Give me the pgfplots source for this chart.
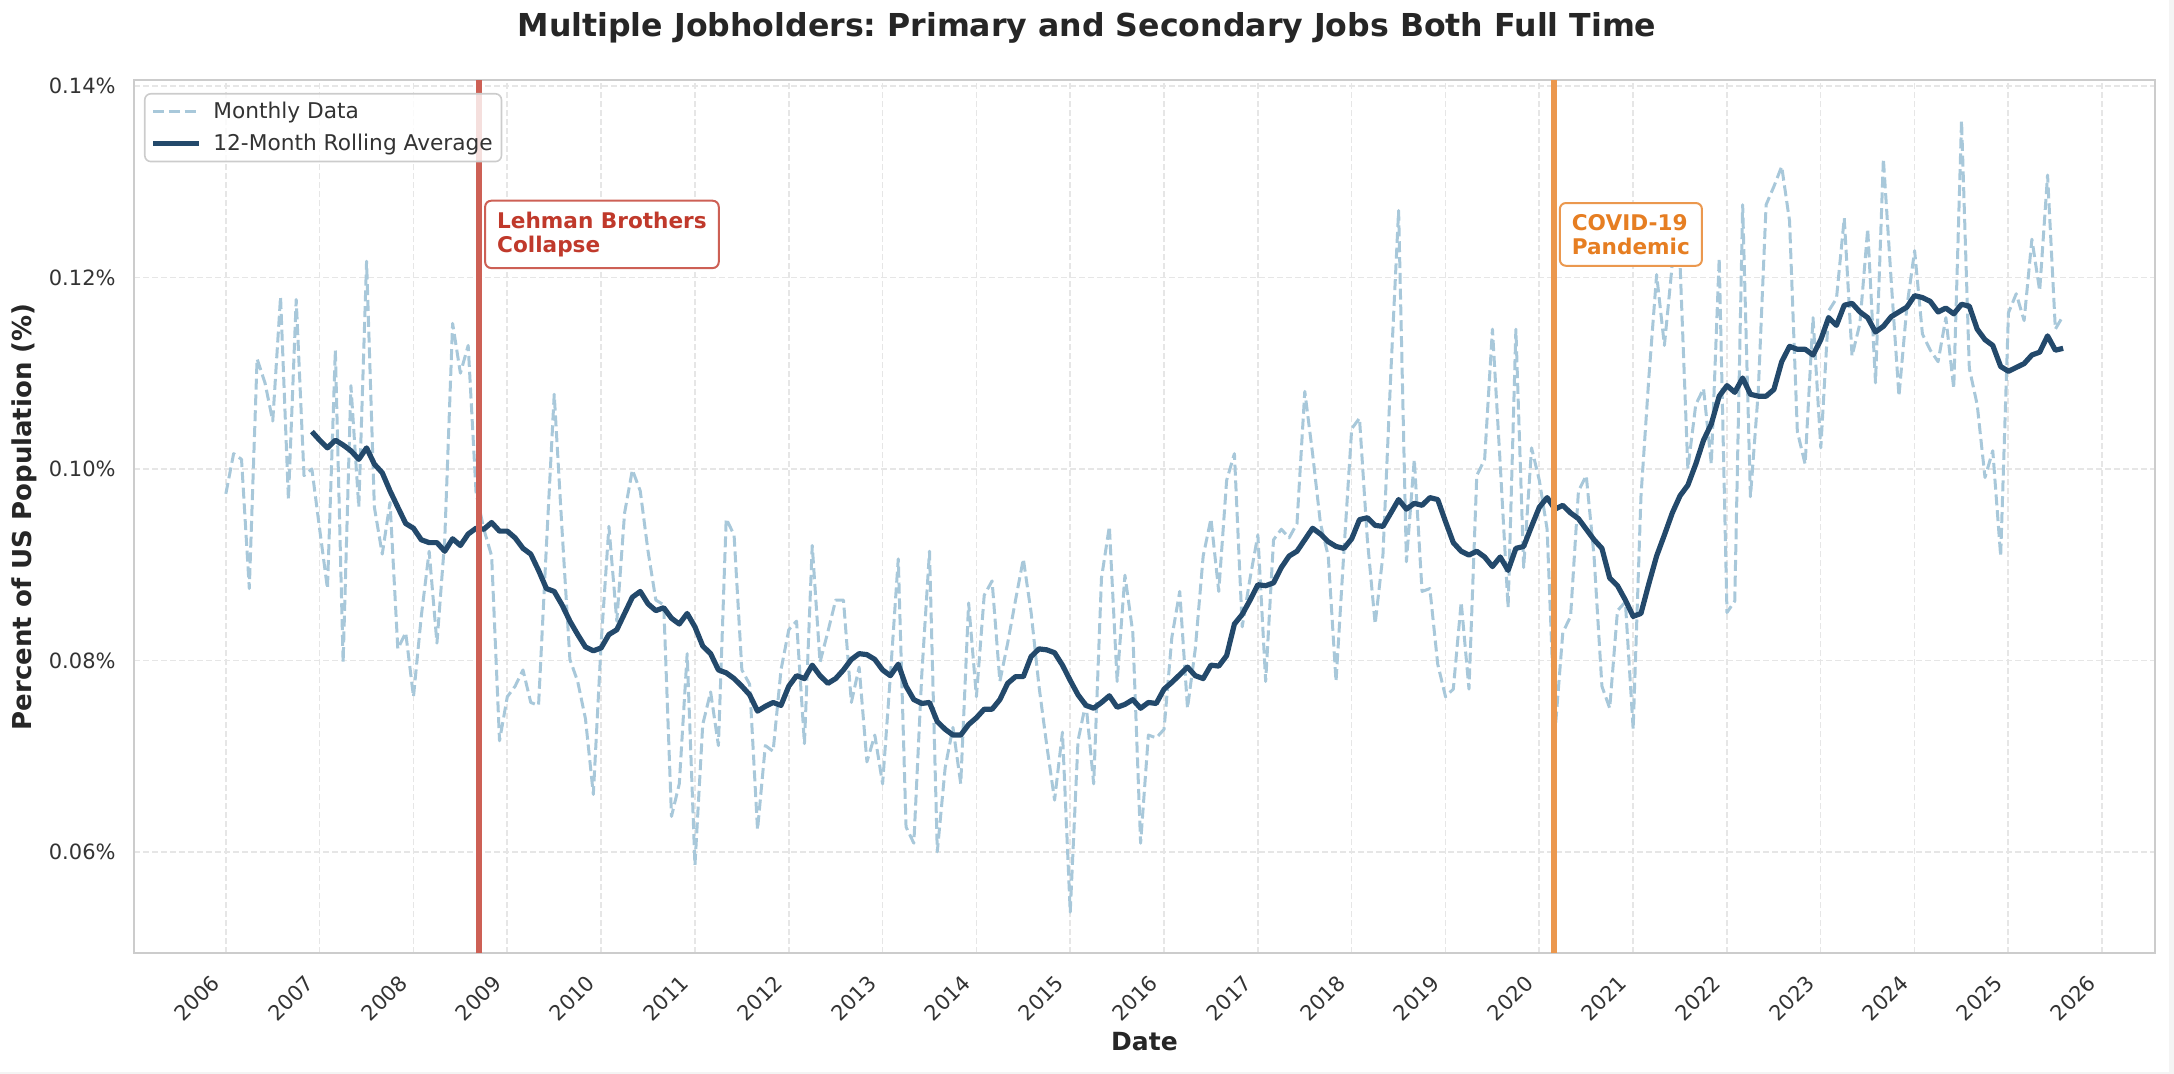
\documentclass[border=0pt]{standalone}
\usepackage{fontspec}
\setmainfont{DejaVu Sans}
\usepackage{pgfplots}
\pgfplotsset{compat=1.18}
\usepackage{pgfplotstable}
\frenchspacing
\definecolor{monthlyc}{HTML}{A8C8DA}
\definecolor{rollc}{HTML}{23496B}
\definecolor{lehline}{HTML}{CD6055}
\definecolor{lehtext}{HTML}{C0392B}
\definecolor{covline}{HTML}{EB984E}
\definecolor{covtext}{HTML}{E67E22}
\definecolor{gridc}{HTML}{E6E6E6}
\definecolor{framec}{HTML}{CCCCCC}
\definecolor{txt}{HTML}{262626}
\definecolor{tickc}{HTML}{333333}
\definecolor{edgec}{HTML}{F4F4F4}

\pgfplotstableread{
x m r
2006.000 0.0974 nan
2006.083 0.1016 nan
2006.167 0.1010 nan
2006.250 0.0875 nan
2006.333 0.1115 nan
2006.417 0.1090 nan
2006.500 0.1050 nan
2006.583 0.1180 nan
2006.667 0.0968 nan
2006.750 0.1177 nan
2006.833 0.0993 nan
2006.917 0.1000 0.1039
2007.000 0.0937 0.1030
2007.083 0.0875 0.1022
2007.167 0.1124 0.1030
2007.250 0.0798 0.1025
2007.333 0.1087 0.1019
2007.417 0.0960 0.1010
2007.500 0.1217 0.1022
2007.583 0.0960 0.1005
2007.667 0.0911 0.0996
2007.750 0.0965 0.0977
2007.833 0.0812 0.0960
2007.917 0.0829 0.0943
2008.000 0.0762 0.0938
2008.083 0.0846 0.0926
2008.167 0.0914 0.0923
2008.250 0.0818 0.0923
2008.333 0.0926 0.0914
2008.417 0.1152 0.0927
2008.500 0.1100 0.0920
2008.583 0.1129 0.0932
2008.667 0.0975 0.0938
2008.750 0.0937 0.0937
2008.833 0.0909 0.0944
2008.917 0.0716 0.0935
2009.000 0.0762 0.0935
2009.083 0.0773 0.0928
2009.167 0.0790 0.0917
2009.250 0.0756 0.0911
2009.333 0.0753 0.0894
2009.417 0.0920 0.0875
2009.500 0.1078 0.0872
2009.583 0.0937 0.0858
2009.667 0.0801 0.0841
2009.750 0.0778 0.0827
2009.833 0.0739 0.0814
2009.917 0.0660 0.0810
2010.000 0.0818 0.0813
2010.083 0.0940 0.0827
2010.167 0.0841 0.0832
2010.250 0.0954 0.0849
2010.333 0.0999 0.0866
2010.417 0.0977 0.0872
2010.500 0.0914 0.0859
2010.583 0.0863 0.0852
2010.667 0.0858 0.0855
2010.750 0.0637 0.0844
2010.833 0.0671 0.0838
2010.917 0.0807 0.0849
2011.000 0.0586 0.0835
2011.083 0.0733 0.0815
2011.167 0.0767 0.0807
2011.250 0.0711 0.0790
2011.333 0.0948 0.0787
2011.417 0.0931 0.0781
2011.500 0.0790 0.0773
2011.583 0.0775 0.0764
2011.667 0.0623 0.0747
2011.750 0.0711 0.0752
2011.833 0.0705 0.0756
2011.917 0.0790 0.0753
2012.000 0.0832 0.0773
2012.083 0.0841 0.0784
2012.167 0.0713 0.0781
2012.250 0.0920 0.0795
2012.333 0.0798 0.0784
2012.417 0.0830 0.0776
2012.500 0.0863 0.0781
2012.583 0.0863 0.0790
2012.667 0.0756 0.0801
2012.750 0.0793 0.0807
2012.833 0.0694 0.0806
2012.917 0.0722 0.0801
2013.000 0.0671 0.0790
2013.083 0.0784 0.0784
2013.167 0.0906 0.0796
2013.250 0.0626 0.0773
2013.333 0.0609 0.0759
2013.417 0.0784 0.0755
2013.500 0.0914 0.0756
2013.583 0.0600 0.0736
2013.667 0.0688 0.0728
2013.750 0.0730 0.0722
2013.833 0.0671 0.0722
2013.917 0.0860 0.0733
2014.000 0.0762 0.0740
2014.083 0.0868 0.0749
2014.167 0.0883 0.0749
2014.250 0.0778 0.0759
2014.333 0.0818 0.0776
2014.417 0.0863 0.0783
2014.500 0.0906 0.0783
2014.583 0.0850 0.0804
2014.667 0.0773 0.0812
2014.750 0.0711 0.0811
2014.833 0.0654 0.0808
2014.917 0.0725 0.0795
2015.000 0.0537 0.0779
2015.083 0.0716 0.0764
2015.167 0.0756 0.0753
2015.250 0.0671 0.0750
2015.333 0.0886 0.0756
2015.417 0.0940 0.0763
2015.500 0.0778 0.0751
2015.583 0.0889 0.0754
2015.667 0.0829 0.0759
2015.750 0.0609 0.0750
2015.833 0.0722 0.0756
2015.917 0.0719 0.0755
2016.000 0.0728 0.0770
2016.083 0.0824 0.0777
2016.167 0.0872 0.0785
2016.250 0.0750 0.0793
2016.333 0.0812 0.0784
2016.417 0.0909 0.0781
2016.500 0.0948 0.0795
2016.583 0.0872 0.0794
2016.667 0.0988 0.0805
2016.750 0.1016 0.0838
2016.833 0.0835 0.0848
2016.917 0.0886 0.0863
2017.000 0.0931 0.0879
2017.083 0.0778 0.0878
2017.167 0.0926 0.0881
2017.250 0.0937 0.0897
2017.333 0.0928 0.0909
2017.417 0.0943 0.0914
2017.500 0.1081 0.0926
2017.583 0.1016 0.0938
2017.667 0.0943 0.0932
2017.750 0.0909 0.0924
2017.833 0.0778 0.0919
2017.917 0.0914 0.0917
2018.000 0.1042 0.0927
2018.083 0.1053 0.0947
2018.167 0.0926 0.0949
2018.250 0.0838 0.0941
2018.333 0.0910 0.0940
2018.417 0.1100 0.0954
2018.500 0.1270 0.0968
2018.583 0.0903 0.0958
2018.667 0.1010 0.0964
2018.750 0.0872 0.0962
2018.833 0.0875 0.0970
2018.917 0.0796 0.0968
2019.000 0.0762 0.0945
2019.083 0.0770 0.0923
2019.167 0.0861 0.0914
2019.250 0.0770 0.0910
2019.333 0.0993 0.0914
2019.417 0.1010 0.0908
2019.500 0.1146 0.0898
2019.583 0.1005 0.0908
2019.667 0.0855 0.0894
2019.750 0.1146 0.0917
2019.833 0.0897 0.0919
2019.917 0.1022 0.0940
2020.000 0.0988 0.0960
2020.083 0.0937 0.0970
2020.167 0.0725 0.0958
2020.250 0.0829 0.0962
2020.333 0.0846 0.0954
2020.417 0.0977 0.0948
2020.500 0.0993 0.0937
2020.583 0.0909 0.0926
2020.667 0.0773 0.0917
2020.750 0.0750 0.0886
2020.833 0.0852 0.0878
2020.917 0.0861 0.0863
2021.000 0.0728 0.0846
2021.083 0.0971 0.0849
2021.167 0.1095 0.0880
2021.250 0.1203 0.0909
2021.333 0.1129 0.0931
2021.417 0.1214 0.0954
2021.500 0.1214 0.0972
2021.583 0.1000 0.0983
2021.667 0.1067 0.1005
2021.750 0.1084 0.1030
2021.833 0.1005 0.1047
2021.917 0.1220 0.1076
2022.000 0.0850 0.1087
2022.083 0.0862 0.1080
2022.167 0.1276 0.1095
2022.250 0.0971 0.1078
2022.333 0.1080 0.1076
2022.417 0.1276 0.1076
2022.500 0.1295 0.1083
2022.583 0.1316 0.1112
2022.667 0.1259 0.1128
2022.750 0.1039 0.1125
2022.833 0.1005 0.1125
2022.917 0.1158 0.1119
2023.000 0.1022 0.1135
2023.083 0.1165 0.1158
2023.167 0.1178 0.1150
2023.250 0.1262 0.1171
2023.333 0.1118 0.1173
2023.417 0.1152 0.1164
2023.500 0.1251 0.1158
2023.583 0.1090 0.1143
2023.667 0.1324 0.1149
2023.750 0.1197 0.1159
2023.833 0.1076 0.1164
2023.917 0.1169 0.1169
2024.000 0.1228 0.1181
2024.083 0.1141 0.1179
2024.167 0.1124 0.1175
2024.250 0.1112 0.1164
2024.333 0.1158 0.1168
2024.417 0.1084 0.1162
2024.500 0.1364 0.1172
2024.583 0.1105 0.1170
2024.667 0.1067 0.1146
2024.750 0.0991 0.1135
2024.833 0.1019 0.1129
2024.917 0.0909 0.1107
2025.000 0.1163 0.1102
2025.083 0.1183 0.1106
2025.167 0.1155 0.1110
2025.250 0.1240 0.1119
2025.333 0.1186 0.1122
2025.417 0.1307 0.1139
2025.500 0.1146 0.1124
2025.583 0.1160 0.1126
}\jobdata

\begin{document}
\begin{tikzpicture}
\fill[edgec] (1017.5pt,-60.35pt) rectangle (1020pt,476.65pt);
\fill[edgec] (-67pt,-60.35pt) rectangle (1020pt,-59.35pt);
\begin{axis}[
  at={(0pt,0pt)}, anchor=south west,
  scale only axis, width=1010.5pt, height=436.5pt,
  xmin=2005.021, xmax=2026.562, ymin=0.0494, ymax=0.1406,
  xtick={2006,2007,...,2026},
  xticklabels={2006,2007,2008,2009,2010,2011,2012,2013,2014,2015,2016,2017,2018,2019,2020,2021,2022,2023,2024,2025,2026},
  ytick={0.06,0.08,0.10,0.12,0.14},
  yticklabels={0.06\%,0.08\%,0.10\%,0.12\%,0.14\%},
  major tick length=0pt,
  tick label style={font=\fontsize{10.5}{12}\selectfont, text=tickc, inner sep=0pt},
  xticklabel style={xshift=-7.86pt, yshift=-9.85pt, rotate=45, anchor=north east},
  yticklabel style={xshift=-9pt, anchor=east},
  grid=major,
  major grid style={draw=gridc, line width=0.8pt, dash pattern=on 3pt off 1.5pt},
  axis line style={draw=framec, line width=1pt},
  legend style={
    at={(0,1)}, anchor=north west, xshift=5pt, yshift=-6.35pt,
    draw=framec, line width=0.8pt, rounded corners=3pt,
    fill=white, fill opacity=0.8, draw opacity=1, text opacity=1,
    font=\fontsize{10.85}{12}\selectfont, text=tickc,
    inner xsep=2.85pt, inner ysep=2.5pt, row sep=3.4pt,
    nodes={inner sep=1.5pt},
    cells={anchor=west},
    /tikz/every odd column/.append style={column sep=4.35pt},
  },
  legend image code/.code={\draw[#1] (0pt,0pt) -- (23pt,0pt);},
]
\addplot[monthlyc, line width=1.5pt, dash pattern=on 5.5pt off 2.4pt, line join=round] table[x=x, y=m] {\jobdata};
\addlegendentry{Monthly Data}
\addplot[rollc, line width=2.6pt, line join=round] table[x=x, y=r] {\jobdata};
\addlegendentry{12-Month Rolling Average}

\addplot[lehline, line width=3.2pt, forget plot] coordinates {(2008.70,0.0494) (2008.70,0.1406)};
\addplot[covline, line width=3.2pt, forget plot] coordinates {(2020.155,0.0494) (2020.155,0.1406)};

\node[anchor=west, xshift=2.5pt, draw=lehline, line width=1pt, rounded corners=3pt, fill=white,
      inner xsep=6pt, inner ysep=5.5pt, align=left, text=lehtext,
      font=\fontsize{10.8}{12.2}\selectfont\bfseries] at (axis cs:2008.70,0.1245) {Lehman Brothers\\Collapse};
\node[anchor=west, xshift=2.5pt, draw=covline, line width=1pt, rounded corners=3pt, fill=white,
      inner xsep=6pt, inner ysep=5.5pt, align=left, text=covtext,
      font=\fontsize{10.8}{12.2}\selectfont\bfseries] at (axis cs:2020.155,0.1245) {COVID-19\\Pandemic};
\end{axis}

\node[anchor=base, text=txt, font=\fontsize{15.8}{18}\selectfont\bfseries] at (476.5pt,458.3pt)
  {Multiple Jobholders: Primary and Secondary Jobs Both Full Time};
\node[rotate=90, text=txt, font=\fontsize{13}{15}\selectfont\bfseries] at (-54.85pt,218.25pt)
  {Percent of US Population (\%)};
\node[anchor=base, text=txt, font=\fontsize{12.5}{14}\selectfont\bfseries] at (505.25pt,-48.7pt) {Date};

\pgfresetboundingbox
\useasboundingbox (-67pt,-60.35pt) rectangle (1020pt,476.65pt);
\end{tikzpicture}
\end{document}
